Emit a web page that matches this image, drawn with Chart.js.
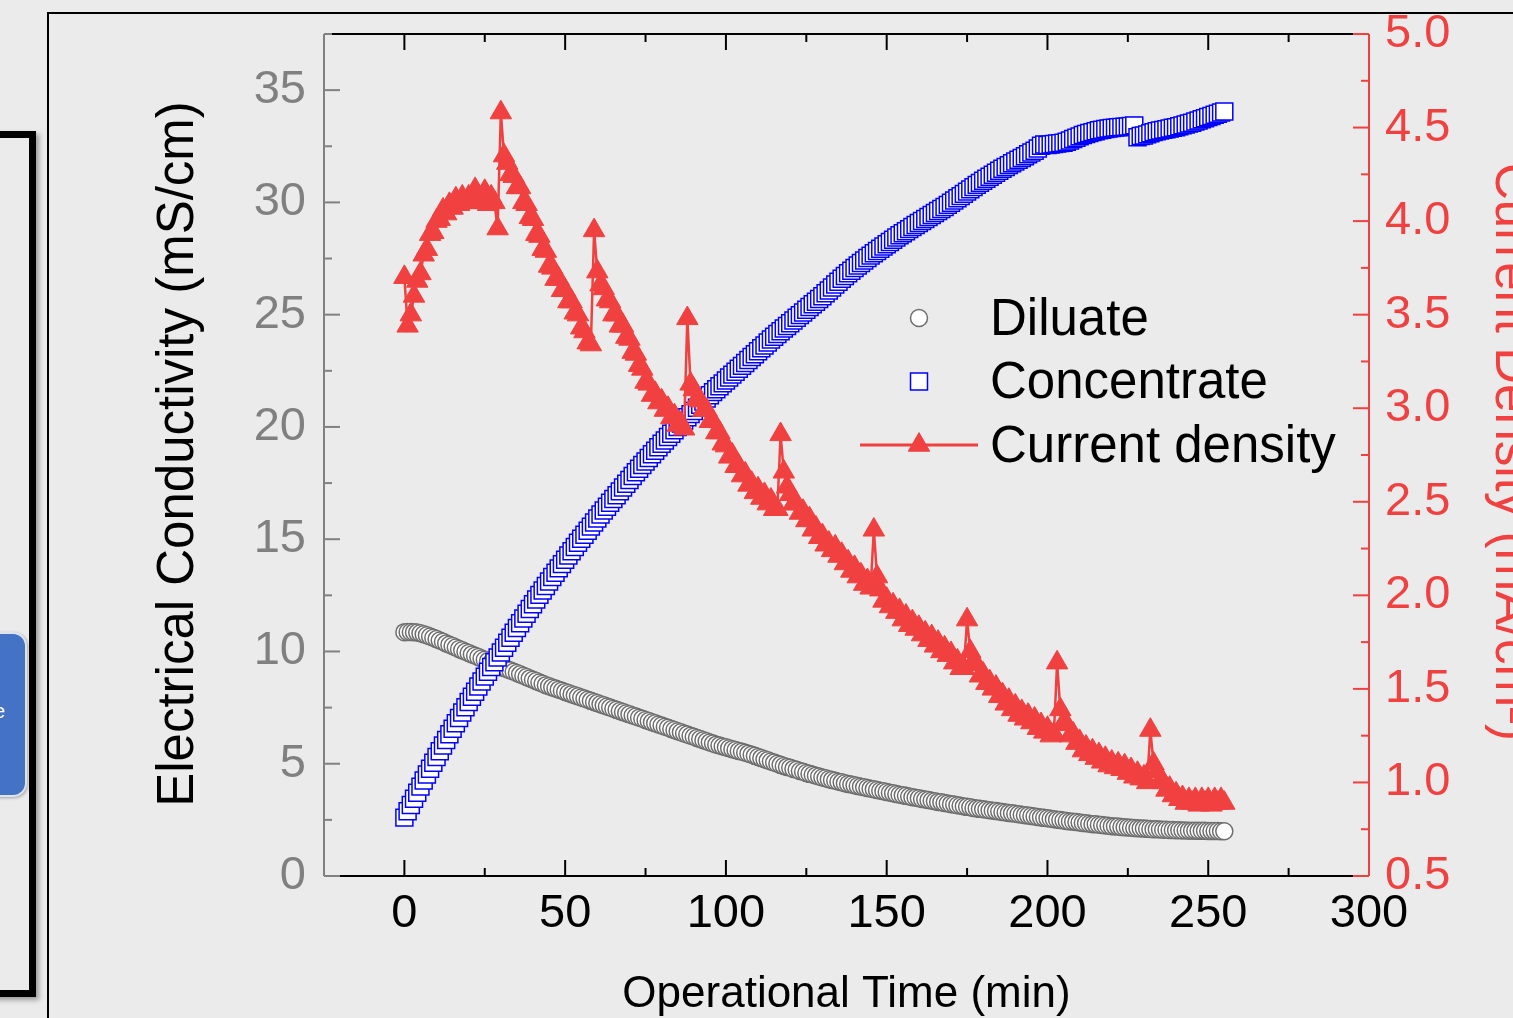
<!DOCTYPE html>
<html>
<head>
<meta charset="utf-8">
<script src="https://cdn.jsdelivr.net/npm/chart.js@4.4.1/dist/chart.umd.min.js"></script>
<style>
  html, body { margin: 0; padding: 0; width: 1513px; height: 1018px; overflow: hidden; background: #ebebeb; }
  .frame { position: absolute; background: #000; }
  #box { position: absolute; left: -100px; top: 131px; width: 122px; height: 852px; border: 7px solid #000; box-shadow: 3px 3px 5px rgba(0,0,0,.35); }
  #btn { position: absolute; left: -40px; top: 632px; width: 63px; height: 161px; background: #4472c4; border: 2px solid #dde4f0; border-radius: 14px; box-shadow: 1px 1px 3px rgba(0,0,0,.3); }
  #btnText { position: absolute; left: -6px; top: 700px; font: 20px "Liberation Sans", Arial, sans-serif; color: #fff; }
  canvas { position: absolute; left: 0; top: 0; }
</style>
</head>
<body>
<div class="frame" style="left:47px;top:12px;width:2px;height:1006px"></div>
<div class="frame" style="left:47px;top:12px;width:1466px;height:2px"></div>
<div id="box"></div>
<div id="btn"></div>
<div id="btnText">e</div>
<canvas id="c" width="1513" height="1018"></canvas>
<script>
/* operational time (min) */
const time = [
  0,1,2,3,4,5,6,7,8,9,10,11,12,13,14,15,16,17,18,19,20,21,22,23,24,25,26,27,28,29,
  30,31,32,33,34,35,36,37,38,39,40,41,42,43,44,45,46,47,48,49,50,51,52,53,54,55,56,57,58,59,
  60,61,62,63,64,65,66,67,68,69,70,71,72,73,74,75,76,77,78,79,80,81,82,83,84,85,86,87,88,89,
  90,91,92,93,94,95,96,97,98,99,100,101,102,103,104,105,106,107,108,109,110,111,112,113,114,115,116,117,118,119,
  120,121,122,123,124,125,126,127,128,129,130,131,132,133,134,135,136,137,138,139,140,141,142,143,144,145,146,147,148,149,
  150,151,152,153,154,155,156,157,158,159,160,161,162,163,164,165,166,167,168,169,170,171,172,173,174,175,176,177,178,179,
  180,181,182,183,184,185,186,187,188,189,190,191,192,193,194,195,196,197,198,199,200,201,202,203,204,205,206,207,208,209,
  210,211,212,213,214,215,216,217,218,219,220,221,222,223,224,225,226,227,228,229,230,231,232,233,234,235,236,237,238,239,
  240,241,242,243,244,245,246,247,248,249,250,251,252,253,254,255
];

/* electrical conductivity, diluate (mS/cm) */
const diluate = [
  10.86,10.87,10.87,10.86,10.84,10.81,10.77,10.72,10.67,10.61,
  10.55,10.49,10.43,10.36,10.30,10.24,10.18,10.11,10.05,9.99,
  9.93,9.87,9.81,9.75,9.69,9.63,9.57,9.51,9.45,9.39,
  9.33,9.27,9.21,9.15,9.10,9.04,8.98,8.92,8.86,8.80,
  8.74,8.68,8.62,8.56,8.50,8.45,8.40,8.35,8.30,8.25,
  8.20,8.15,8.10,8.05,8.00,7.95,7.90,7.85,7.80,7.75,
  7.70,7.65,7.60,7.55,7.50,7.45,7.40,7.35,7.30,7.25,
  7.20,7.15,7.10,7.05,7.00,6.95,6.90,6.85,6.80,6.75,
  6.70,6.65,6.60,6.55,6.50,6.45,6.40,6.35,6.30,6.25,
  6.20,6.15,6.10,6.05,6.00,5.95,5.90,5.85,5.81,5.77,
  5.73,5.69,5.65,5.61,5.57,5.53,5.49,5.45,5.40,5.35,
  5.30,5.25,5.20,5.15,5.10,5.05,5.00,4.95,4.90,4.86,
  4.82,4.77,4.73,4.68,4.64,4.59,4.55,4.51,4.47,4.43,
  4.39,4.35,4.31,4.28,4.24,4.20,4.17,4.13,4.10,4.07,
  4.04,4.01,3.98,3.95,3.92,3.89,3.86,3.83,3.80,3.77,
  3.74,3.71,3.68,3.65,3.62,3.60,3.57,3.54,3.51,3.49,
  3.46,3.43,3.41,3.38,3.35,3.33,3.30,3.28,3.25,3.23,
  3.20,3.18,3.15,3.13,3.10,3.08,3.06,3.03,3.01,2.99,
  2.97,2.95,2.93,2.91,2.89,2.87,2.85,2.83,2.81,2.79,
  2.77,2.75,2.73,2.71,2.69,2.67,2.65,2.63,2.61,2.59,
  2.57,2.55,2.53,2.51,2.49,2.47,2.45,2.43,2.42,2.40,
  2.38,2.36,2.35,2.33,2.31,2.30,2.28,2.27,2.25,2.24,
  2.22,2.21,2.20,2.18,2.17,2.16,2.15,2.14,2.13,2.12,
  2.11,2.10,2.09,2.08,2.08,2.07,2.06,2.06,2.05,2.05,
  2.04,2.04,2.03,2.03,2.02,2.02,2.02,2.01,2.01,2.01,
  2.00,2.00,2.00,2.00,1.99,1.99
];

/* electrical conductivity, concentrate (mS/cm) */
const concentrate = [
  2.60,2.88,3.16,3.44,3.71,3.98,4.25,4.52,4.78,5.04,
  5.30,5.56,5.81,6.06,6.31,6.56,6.80,7.04,7.28,7.52,
  7.75,7.98,8.21,8.44,8.66,8.88,9.10,9.31,9.52,9.73,
  9.95,10.17,10.39,10.61,10.83,11.05,11.26,11.47,11.68,11.89,
  12.10,12.31,12.52,12.72,12.92,13.12,13.32,13.51,13.70,13.89,
  14.08,14.27,14.46,14.65,14.84,15.02,15.20,15.38,15.56,15.74,
  15.92,16.10,16.28,16.45,16.62,16.79,16.96,17.13,17.30,17.47,
  17.64,17.81,17.98,18.14,18.30,18.46,18.62,18.78,18.94,19.10,
  19.25,19.40,19.55,19.70,19.85,20.00,20.15,20.29,20.43,20.57,
  20.71,20.85,20.99,21.13,21.27,21.41,21.55,21.68,21.81,21.94,
  22.07,22.20,22.33,22.46,22.59,22.72,22.85,22.98,23.11,23.24,
  23.37,23.50,23.63,23.76,23.89,24.02,24.14,24.26,24.38,24.50,
  24.62,24.74,24.86,24.98,25.10,25.22,25.34,25.46,25.58,25.70,
  25.82,25.95,26.08,26.21,26.34,26.47,26.60,26.72,26.84,26.96,
  27.08,27.19,27.30,27.41,27.52,27.63,27.74,27.84,27.94,28.04,
  28.14,28.24,28.34,28.44,28.54,28.63,28.72,28.81,28.90,28.99,
  29.08,29.17,29.26,29.35,29.44,29.53,29.62,29.71,29.80,29.89,
  29.98,30.08,30.18,30.28,30.38,30.48,30.58,30.68,30.78,30.87,
  30.96,31.05,31.14,31.23,31.32,31.41,31.50,31.58,31.66,31.74,
  31.82,31.90,31.98,32.06,32.14,32.22,32.30,32.40,32.52,32.58,
  32.56,32.58,32.60,32.62,32.64,32.66,32.70,32.76,32.82,32.88,
  32.94,33.00,33.05,33.09,33.13,33.17,33.21,33.24,33.27,33.29,
  33.31,33.33,33.35,33.36,33.37,33.38,33.40,33.43,32.90,32.96,
  32.98,33.03,33.08,33.13,33.17,33.20,33.23,33.26,33.29,33.32,
  33.35,33.39,33.43,33.47,33.51,33.55,33.60,33.65,33.70,33.75,
  33.80,33.85,33.90,33.95,34.00,34.05
];

/* current density (mA/cm2) */
const currentDensity = [
  3.70,3.44,3.50,3.60,3.68,3.72,3.82,3.85,3.93,3.94,
  4.00,4.01,4.06,4.04,4.09,4.07,4.12,4.09,4.13,4.10,
  4.13,4.11,4.17,4.10,4.12,4.16,4.09,4.13,4.10,3.96,
  4.58,4.35,4.31,4.25,4.24,4.18,4.18,4.10,4.09,4.02,
  4.01,3.93,3.92,3.85,3.84,3.76,3.75,3.69,3.69,3.63,
  3.63,3.57,3.57,3.51,3.50,3.43,3.41,3.35,3.34,3.95,
  3.73,3.66,3.64,3.58,3.57,3.50,3.50,3.44,3.44,3.38,
  3.37,3.30,3.29,3.23,3.21,3.14,3.13,3.07,3.08,3.03,
  3.04,2.99,3.00,2.95,2.96,2.91,2.92,2.89,3.48,3.13,
  3.10,3.05,3.04,2.99,2.99,2.93,2.93,2.87,2.87,2.81,
  2.80,2.74,2.75,2.69,2.69,2.64,2.65,2.59,2.60,2.55,
  2.57,2.52,2.54,2.49,2.51,2.46,2.46,2.86,2.66,2.58,
  2.54,2.49,2.49,2.44,2.45,2.40,2.41,2.35,2.36,2.31,
  2.32,2.27,2.28,2.24,2.26,2.21,2.22,2.17,2.18,2.13,
  2.15,2.10,2.11,2.06,2.08,2.04,2.35,2.10,2.03,1.97,
  1.98,1.94,1.95,1.91,1.92,1.87,1.89,1.84,1.86,1.82,
  1.83,1.79,1.80,1.76,1.78,1.73,1.75,1.70,1.72,1.68,
  1.69,1.64,1.65,1.61,1.61,1.87,1.70,1.65,1.63,1.57,
  1.58,1.53,1.54,1.50,1.51,1.46,1.47,1.42,1.44,1.39,
  1.41,1.36,1.38,1.34,1.36,1.32,1.34,1.29,1.31,1.27,
  1.29,1.25,1.26,1.64,1.39,1.32,1.31,1.25,1.26,1.21,
  1.22,1.17,1.19,1.15,1.17,1.13,1.15,1.11,1.13,1.09,
  1.11,1.08,1.10,1.07,1.09,1.05,1.07,1.03,1.05,1.02,
  1.03,1.00,1.28,1.10,1.06,1.01,1.00,0.96,0.97,0.93,
  0.94,0.91,0.92,0.89,0.91,0.89,0.91,0.88,0.91,0.89,
  0.91,0.88,0.91,0.89,0.91,0.89
];

const xTicks = [0, 50, 100, 150, 200, 250, 300];
const xMinor = [25, 75, 125, 175, 225, 275];
const yTicks = [0, 5, 10, 15, 20, 25, 30, 35];
const yMinor = [2.5, 7.5, 12.5, 17.5, 22.5, 27.5, 32.5, 37.5];
const y2Ticks = [0.5, 1.0, 1.5, 2.0, 2.5, 3.0, 3.5, 4.0, 4.5, 5.0];
const y2Minor = [0.75, 1.25, 1.75, 2.25, 2.75, 3.25, 3.75, 4.25, 4.75];
const legendLabels = ['Diluate', 'Concentrate', 'Current density'];
const xTitle = 'Operational Time (min)';
const yTitle = 'Electrical Conductivity (mS/cm)';
const y2Title = 'Current Density (mA/cm\u00B2)';

const FONT = '"Liberation Sans", Arial, sans-serif';
const RED = '#f04040', BLUE = '#0000ff', GREY = '#808080', RING = '#6e6e6e';
Chart.defaults.font.family = FONT;

const pts = ys => time.map((t, i) => ({ x: t, y: ys[i] }));
const setTicks = vals => s => { s.ticks = vals.map(v => ({ value: v })); };
const fixSize = (w, h) => s => {
  if (w) s.width = w;
  if (h) s.height = h;
  s.paddingTop = 0; s.paddingBottom = 0; s.paddingLeft = 0; s.paddingRight = 0;
};

// Origin-style inward ticks, axis titles and the in-plot legend
const originDecor = {
  id: 'originDecor',
  afterDraw(chart) {
    const { ctx, chartArea: a, scales: { x, y, y2 } } = chart;
    const seg = (x1, y1, x2, y2_) => { ctx.beginPath(); ctx.moveTo(x1, y1); ctx.lineTo(x2, y2_); ctx.stroke(); };
    ctx.save();
    ctx.lineWidth = 2;

    ctx.strokeStyle = '#000';
    seg(a.left, a.bottom, a.right, a.bottom);
    seg(a.left, a.top, a.right, a.top);
    xTicks.forEach(v => { const p = x.getPixelForValue(v); seg(p, a.bottom, p, a.bottom - 16); seg(p, a.top, p, a.top + 16); });
    xMinor.forEach(v => { const p = x.getPixelForValue(v); seg(p, a.bottom, p, a.bottom - 8); seg(p, a.top, p, a.top + 8); });

    ctx.strokeStyle = GREY;
    seg(a.left, a.top, a.left, a.bottom);
    yTicks.forEach(v => { const p = y.getPixelForValue(v); seg(a.left, p, a.left + 16, p); });
    yMinor.forEach(v => { const p = y.getPixelForValue(v); seg(a.left, p, a.left + 8, p); });

    ctx.strokeStyle = RED;
    seg(a.right, a.top, a.right, a.bottom);
    y2Ticks.forEach(v => { const p = y2.getPixelForValue(v); seg(a.right, p, a.right - 16, p); });
    y2Minor.forEach(v => { const p = y2.getPixelForValue(v); seg(a.right, p, a.right - 8, p); });

    // axis titles
    ctx.textAlign = 'center'; ctx.textBaseline = 'alphabetic';
    ctx.fillStyle = '#000';
    ctx.font = `44px ${FONT}`;
    ctx.fillText(xTitle, (a.left + a.right) / 2, 1007);
    ctx.font = `51px ${FONT}`;
    ctx.save(); ctx.translate(193, 454); ctx.rotate(-Math.PI / 2); ctx.fillText(yTitle, 0, 0); ctx.restore();
    ctx.fillStyle = RED;
    ctx.save(); ctx.translate(1496, 452); ctx.rotate(Math.PI / 2); ctx.fillText(y2Title, 0, 0); ctx.restore();

    // legend
    const sx = 919, tx = 990;
    ctx.strokeStyle = RED; ctx.lineWidth = 3;
    seg(860, 445, 978, 445);
    ctx.lineWidth = 1.5; ctx.fillStyle = '#fff'; ctx.strokeStyle = RING;
    Chart.helpers.drawPoint(ctx, { pointStyle: 'circle', radius: 8.5, rotation: 0, borderWidth: 1.5 }, sx, 318);
    ctx.strokeStyle = BLUE;
    Chart.helpers.drawPoint(ctx, { pointStyle: 'rect', radius: 12, rotation: 0, borderWidth: 1.5 }, sx, 381.5);
    ctx.fillStyle = RED; ctx.strokeStyle = RED; ctx.lineWidth = 1;
    Chart.helpers.drawPoint(ctx, { pointStyle: 'triangle', radius: 12.4, rotation: 0, borderWidth: 1 }, sx, 445);
    ctx.fillStyle = '#000'; ctx.textAlign = 'left'; ctx.font = `51px ${FONT}`;
    ctx.fillText(legendLabels[0], tx, 335);
    ctx.fillText(legendLabels[1], tx, 398);
    ctx.fillText(legendLabels[2], tx, 461.5);
    ctx.restore();
  }
};

new Chart(document.getElementById('c'), {
  type: 'scatter',
  data: {
    datasets: [
      { label: legendLabels[2], data: pts(currentDensity), yAxisID: 'y2', order: 1,
        showLine: true, borderColor: RED, borderWidth: 2.5, backgroundColor: RED,
        pointStyle: 'triangle', pointRadius: 12.4, pointBackgroundColor: RED, pointBorderColor: RED, pointBorderWidth: 1 },
      { label: legendLabels[1], data: pts(concentrate), yAxisID: 'y', order: 2,
        pointStyle: 'rect', pointRadius: 12, pointBackgroundColor: '#fff', pointBorderColor: BLUE, pointBorderWidth: 1.5 },
      { label: legendLabels[0], data: pts(diluate), yAxisID: 'y', order: 3,
        pointStyle: 'circle', pointRadius: 8.5, pointBackgroundColor: '#fff', pointBorderColor: RING, pointBorderWidth: 1.5 }
    ]
  },
  options: {
    responsive: false, devicePixelRatio: 1, animation: false, events: [],
    layout: { padding: { top: 34, left: 0, right: 0, bottom: 0 } },
    plugins: { legend: { display: false }, tooltip: { enabled: false } },
    scales: {
      x: { type: 'linear', position: 'bottom', min: -25, max: 300,
        grid: { display: false, drawTicks: false }, border: { display: false },
        ticks: { autoSkip: false, maxRotation: 0, color: '#000', font: { size: 47 }, padding: 10 },
        afterBuildTicks: setTicks(xTicks), afterFit: fixSize(0, 142) },
      y: { type: 'linear', position: 'left', min: 0, max: 37.5,
        grid: { display: false, drawTicks: false }, border: { display: false },
        ticks: { autoSkip: false, color: GREY, font: { size: 47 }, padding: 18 },
        afterBuildTicks: setTicks(yTicks), afterFit: fixSize(324, 0) },
      y2: { type: 'linear', position: 'right', min: 0.5, max: 5.0,
        grid: { display: false, drawTicks: false }, border: { display: false },
        ticks: { autoSkip: false, color: RED, font: { size: 47 }, padding: 16, callback: v => Number(v).toFixed(1) },
        afterBuildTicks: setTicks(y2Ticks), afterFit: fixSize(144, 0) }
    }
  },
  plugins: [originDecor]
});
</script>
</body>
</html>
